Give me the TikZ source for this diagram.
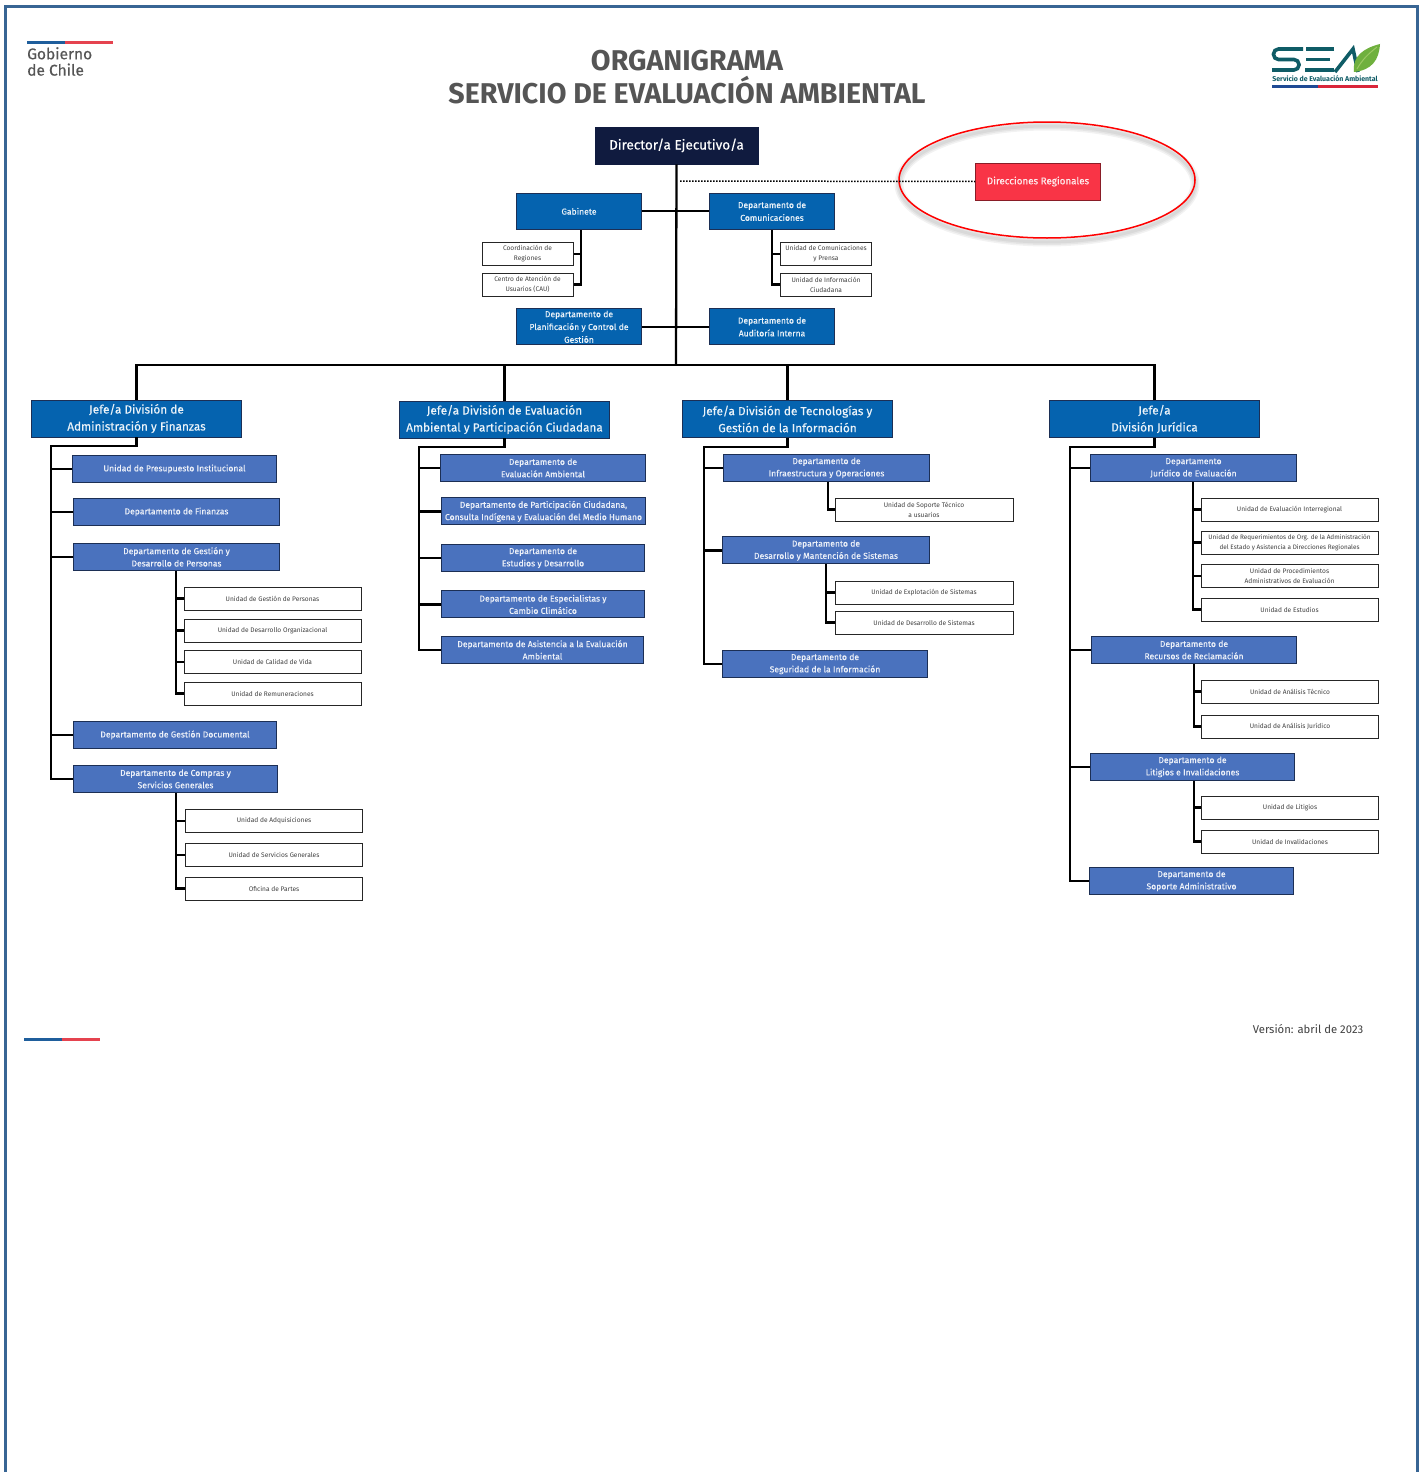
\documentclass[tikz,border=0pt]{standalone}
\usepackage{fontspec}
\setmainfont{Fira Sans}
\newfontfamily\medio{Fira Sans}[FakeBold=0.35]
\usetikzlibrary{calc}
\definecolor{marco}{HTML}{386594}
\definecolor{navy}{HTML}{101B3F}
\definecolor{azul}{HTML}{0563AF}
\definecolor{azulclaro}{HTML}{4A72BE}
\definecolor{bordeazul}{HTML}{1C2F55}
\definecolor{rojo}{HTML}{F93446}
\definecolor{gobazul}{HTML}{1F5E9C}
\definecolor{gobrojo}{HTML}{E5434F}
\definecolor{gristexto}{HTML}{555555}
\definecolor{seaverde}{HTML}{0F5C66}
\definecolor{seaazul}{HTML}{1F4A94}
\definecolor{searojo}{HTML}{D9263A}
\definecolor{hoja}{HTML}{6FB03E}
\definecolor{hojaclara}{HTML}{9CC964}
\tikzset{
	caja/.style={draw, inner sep=0pt, align=center, line width=0.8pt},
	jefe/.style={caja, fill=navy, draw=navy, text=white, minimum width=163, minimum height=37, font=\medio\fontsize{13.5}{16}\selectfont},
	staff/.style={caja, xshift=-0.5pt, yshift=0.7pt, fill=azul, draw=bordeazul, text=white!92!azul, minimum width=125, minimum height=36, font=\medio\fontsize{8.6}{12.8}\selectfont},
	division/.style={caja, xshift=-0.5pt, fill=azul, draw=bordeazul, text=white!92!azul, minimum width=210, minimum height=37, font=\medio\fontsize{11.8}{17}\selectfont},
	depto/.style={caja, xshift=-0.5pt, yshift=0.6pt, fill=azulclaro, draw=bordeazul, line width=1pt, text=white!90!azulclaro, minimum height=27, font=\medio\fontsize{8.6}{12.3}\selectfont},
	unidad/.style={caja, fill=white, draw=black!85, line width=1pt, text=black!75, minimum width=177, minimum height=23, font=\fontsize{6.6}{10}\selectfont},
	chica/.style={unidad, minimum width=91},
	regional/.style={caja, xshift=-0.5pt, fill=rojo, draw=rojo!55!black, text=white!90!rojo, minimum width=125, minimum height=37, font=\medio\fontsize{9.8}{11}\selectfont},
	linea/.style={draw=black, line width=2.3pt},
	titulo/.style={inner sep=0pt, align=center, text=gristexto, font=\bfseries\fontsize{28.6}{33}\selectfont}
}

\begin{document}
\begin{tikzpicture}[x=1pt, y=-1pt]
	%%%%% START %%%%%
	\useasboundingbox (0, 0) rectangle (1421, 1472);
	\fill[white] (0, 0) rectangle (1421, 1472);
	\draw[marco, line width=3pt] (5.5, 1472) -- (5.5, 6.5) -- (1417.5, 6.5) -- (1417.5, 1472);

	% encabezado
	\fill[gobazul] (27, 41) rectangle (65, 44.5);
	\fill[gobrojo] (65, 41) rectangle (113, 44.5);
	\node[inner sep=0pt, align=left, anchor=north west, text=gristexto, font=\medio\fontsize{15.5}{16.3}\selectfont] (gobierno) at (27, 47) {Gobierno\\de Chile};
	\node[titulo] (titulo) at (687, 77) {ORGANIGRAMA\\SERVICIO DE EVALUACIÓN AMBIENTAL};

	% logo
	\draw[seaverde, line width=3.6pt, rounded corners=5] (1303, 49) -- (1273.5, 49) -- (1273.5, 59.5) -- (1299, 59.5) -- (1299, 70) -- (1272, 70);
	\draw[seaverde, line width=3.6pt] (1334, 49) -- (1306, 49) (1306, 59.5) -- (1330, 59.5) (1305, 70) -- (1334, 70);
	\draw[seaverde, line width=3.6pt] (1335, 72) -- (1353, 49) -- (1358, 72);
	\fill[hoja] (1354, 72) .. controls (1352, 56) and (1364, 48) .. (1380, 44) .. controls (1379, 60) and (1372, 70) .. (1354, 72);
	\draw[hojaclara, line width=1pt] (1357, 69) .. controls (1362, 60) and (1368, 54) .. (1377, 47);
	\node[inner sep=0pt, text=seaverde, font=\bfseries\fontsize{7}{7}\selectfont] (servicio) at (1325, 79) {Servicio de Evaluación Ambiental};
	\fill[seaazul] (1272, 84.5) rectangle (1318, 87.5);
	\fill[searojo] (1318, 84.5) rectangle (1378, 87.5);

	% direccion
	\foreach \w in {9, 6, 3}
		\draw[black, opacity=0.05, line width=\w pt] (1047, 184) ellipse [x radius=148, y radius=58];
	\draw[red, line width=1.5pt] (1047, 180) ellipse [x radius=148, y radius=58];

	\node[jefe] (director) at (676.5, 145.5) {Director/a Ejecutivo/a};
	\node[regional] (regiones) at (1038.5, 181.5) {Direcciones Regionales};
	\node[staff] (gabinete) at (579.5, 212) {Gabinete};
	\node[staff] (comunicaciones) at (772.5, 212) {Departamento de\\Comunicaciones};
	\node[staff] (planificacion) at (579.5, 327.5) {Departamento de\\Planificación y Control de\\Gestión};
	\node[staff] (auditoria) at (772.5, 327.5) {Departamento de\\Auditoría Interna};

	\node[chica] (coordinacion) at (527.5, 254) {Coordinación de\\Regiones};
	\node[chica] (atencion) at (527.5, 284.5) {Centro de Atención de\\Usuarios (CAU)};
	\node[chica] (prensa) at (826, 254) {Unidad de Comunicaciones\\y Prensa};
	\node[chica] (ciudadana) at (826, 284.5) {Unidad de Información\\Ciudadana};

	\coordinate (punto) at (680, 181);
	\coordinate (bus) at (676, 365);
	\coordinate (bgab) at (581, 230);
	\coordinate (bcom) at (772, 230);
	\draw[black, line width=1.5pt, dash pattern=on 1.5pt off 1.5pt] (punto) -- (regiones.west);
	\draw[linea] (director.south) -- (bus);
	\draw[linea] (gabinete.east) -- (comunicaciones.west);
	\draw[linea] (planificacion.east) -- (auditoria.west);
	\draw[linea] (bgab) |- (atencion.east);
	\draw[linea] (coordinacion.east) -- (coordinacion.east -| bgab);
	\draw[linea] (bcom) |- (ciudadana.west);
	\draw[linea] (prensa.west) -- (prensa.west -| bcom);

	% divisiones
	\node[division] (admin) at (137, 418.5) {Jefe/a División de\\Administración y Finanzas};
	\node[division] (evaluacion) at (505, 419.5) {Jefe/a División de Evaluación\\Ambiental y Participación Ciudadana};
	\node[division] (tecnologia) at (788, 419) {Jefe/a División de Tecnologías y\\Gestión de la Información};
	\node[division] (juridica) at (1155, 419) {Jefe/a\\División Jurídica};

	\draw[linea] (admin.north) -- (admin.north |- bus) -- (juridica.north |- bus) -- (juridica.north);
	\draw[linea] (evaluacion.north) -- (evaluacion.north |- bus);
	\draw[linea] (tecnologia.north) -- (tecnologia.north |- bus);

	% administracion
	\node[depto, minimum width=204] (presupuesto) at (175, 469.5) {Unidad de Presupuesto Institucional};
	\node[depto, minimum width=206] (finanzas) at (177, 512.5) {Departamento de Finanzas};
	\node[depto, minimum width=206] (personas) at (177, 557.5) {Departamento de Gestión y\\Desarrollo de Personas};
	\node[depto, minimum width=203] (documental) at (175.5, 735.5) {Departamento de Gestión Documental};
	\node[depto, minimum width=204] (compras) at (176, 779.5) {Departamento de Compras y\\Servicios Generales};
	\node[unidad] (ugestion) at (272.5, 598.5) {Unidad de Gestión de Personas};
	\node[unidad] (udesarrollo) at (272.5, 630.5) {Unidad de Desarrollo Organizacional};
	\node[unidad] (ucalidad) at (272.5, 662) {Unidad de Calidad de Vida};
	\node[unidad] (uremu) at (272.5, 693.5) {Unidad de Remuneraciones};
	\node[unidad] (uadq) at (274, 821) {Unidad de Adquisiciones};
	\node[unidad] (userv) at (274, 855) {Unidad de Servicios Generales};
	\node[unidad] (upartes) at (274, 888.5) {Oficina de Partes};

	% evaluacion
	\node[depto, minimum width=205] (evamb) at (543.5, 468.5) {Departamento de\\Evaluación Ambiental};
	\node[depto, minimum width=204] (particip) at (544, 512) {Departamento de Participación Ciudadana,\\Consulta Indígena y Evaluación del Medio Humano};
	\node[depto, minimum width=203] (estudios) at (543.5, 558.5) {Departamento de\\Estudios y Desarrollo};
	\node[depto, minimum width=203] (especial) at (543.5, 605) {Departamento de Especialistas y\\Cambio Climático};
	\node[depto, minimum width=202] (asistencia) at (543, 650.5) {Departamento de Asistencia a la Evaluación\\Ambiental};

	% tecnologia
	\node[depto, minimum width=206] (infra) at (827, 468.5) {Departamento de\\Infraestructura y Operaciones};
	\node[depto, minimum width=207] (sistemas) at (826.5, 551) {Departamento de\\Desarrollo y Mantención de Sistemas};
	\node[depto, minimum width=205] (seguridad) at (825.5, 664.5) {Departamento de\\Seguridad de la Información};
	\node[unidad, minimum width=178] (usoporte) at (924, 509.5) {Unidad de Soporte Técnico\\a usuarios};
	\node[unidad, minimum width=178] (uexplota) at (924, 592.5) {Unidad de Explotación de Sistemas};
	\node[unidad, minimum width=178] (udessis) at (924, 622.5) {Unidad de Desarrollo de Sistemas};

	% juridica
	\node[depto, minimum width=206] (jureval) at (1194, 468.5) {Departamento\\Jurídico de Evaluación};
	\node[depto, minimum width=205] (recursos) at (1194.5, 650.5) {Departamento de\\Recursos de Reclamación};
	\node[depto, minimum width=204] (litigios) at (1193, 767.5) {Departamento de\\Litigios e Invalidaciones};
	\node[depto, minimum width=204] (soporte) at (1192, 881.5) {Departamento de\\Soporte Administrativo};
	\node[unidad] (uinter) at (1289.5, 509.5) {Unidad de Evaluación Interregional};
	\node[unidad, font=\fontsize{6.4}{10}\selectfont] (ureq) at (1289.5, 542.5) {Unidad de Requerimientos de Org. de la Administración\\del Estado y Asistencia a Direcciones Regionales};
	\node[unidad] (uproc) at (1289.5, 576) {Unidad de Procedimientos\\Administrativos de Evaluación};
	\node[unidad] (uestud) at (1289.5, 609.5) {Unidad de Estudios};
	\node[unidad] (utecnico) at (1290, 691.5) {Unidad de Análisis Técnico};
	\node[unidad] (ujuridico) at (1290, 726.5) {Unidad de Análisis Jurídico};
	\node[unidad] (ulitigios) at (1290, 807.5) {Unidad de Litigios};
	\node[unidad] (uinval) at (1290, 841.5) {Unidad de Invalidaciones};

	\coordinate (tadmin) at (51, 446);
	\coordinate (teval) at (419, 447);
	\coordinate (ttec) at (704, 447);
	\coordinate (tjur) at (1070, 447);

	\foreach \d/\t/\u/\h in {admin/tadmin/compras/{presupuesto,finanzas,personas,documental},
		evaluacion/teval/asistencia/{evamb,particip,estudios,especial},
		tecnologia/ttec/seguridad/{infra,sistemas},
		juridica/tjur/soporte/{jureval,recursos,litigios}}{
		\draw[linea] (\d.south) |- (\t) |- (\u.west);
		\foreach \n in \h
			\draw[linea] (\n.west) -- (\n.west -| \t);
	}

	\coordinate (bpers) at (176, 571);
	\coordinate (bcomp) at (176, 793);
	\coordinate (binfra) at (828, 482);
	\coordinate (bsist) at (826, 564);
	\coordinate (bjur) at (1193, 482);
	\coordinate (brec) at (1194, 664);
	\coordinate (blit) at (1194, 781);

	\foreach \b/\u/\h in {bpers/uremu/{ugestion,udesarrollo,ucalidad},
		bcomp/upartes/{uadq,userv},
		binfra/usoporte/{usoporte},
		bsist/udessis/{uexplota},
		bjur/uestud/{uinter,ureq,uproc},
		brec/ujuridico/{utecnico},
		blit/uinval/{ulitigios}}{
		\draw[linea] (\b) |- (\u.west);
		\foreach \n in \h
			\draw[linea] (\n.west) -- (\n.west -| \b);
	}

	% pie
	\fill[gobazul] (24, 1037.5) rectangle (62, 1041);
	\fill[gobrojo] (62, 1037.5) rectangle (100, 1041);
	\node[inner sep=0pt, text=black!75, font=\fontsize{11.3}{14}\selectfont] (version) at (1308, 1029.5) {Versión: abril de 2023};
	%%%%% END %%%%%
\end{tikzpicture}
\end{document}
